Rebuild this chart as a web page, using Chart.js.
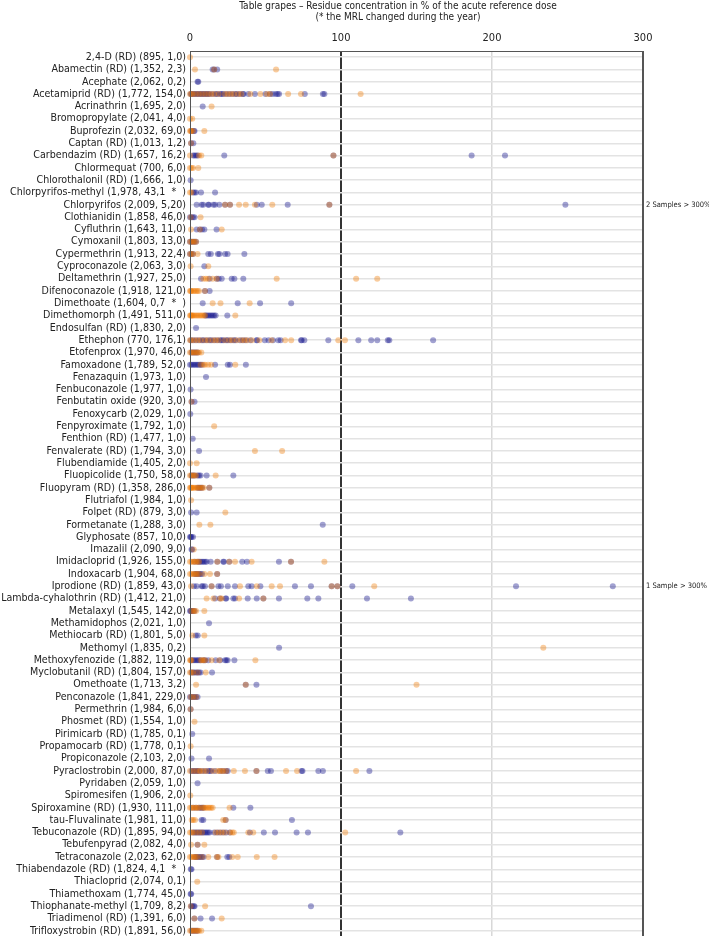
<!DOCTYPE html>
<html>
<head>
<meta charset="utf-8">
<script src="https://cdn.jsdelivr.net/npm/chart.js@4"></script>
<style>
  html, body { margin: 0; padding: 0; background: #fff; overflow: hidden; }
  #wrap { width: 709px; height: 936px; overflow: hidden; }
</style>
</head>
<body>
<div id="wrap"><canvas id="c" width="709" height="941"></canvas></div>
<script>
const titleLines = [
  "Table grapes \u2013 Residue concentration in % of the acute reference dose",
  "(* the MRL changed during the year)"
];

const categories = [
  "2,4-D (RD) (895, 1,0)",
  "Abamectin (RD) (1,352, 2,3)",
  "Acephate (2,062, 0,2)",
  "Acetamiprid (RD) (1,772, 154,0)",
  "Acrinathrin (1,695, 2,0)",
  "Bromopropylate (2,041, 4,0)",
  "Buprofezin (2,032, 69,0)",
  "Captan (RD) (1,013, 1,2)",
  "Carbendazim (RD) (1,657, 16,2)",
  "Chlormequat (700, 6,0)",
  "Chlorothalonil (RD) (1,666, 1,0)",
  "Chlorpyrifos-methyl (1,978, 43,1  *  )",
  "Chlorpyrifos (2,009, 5,20)",
  "Clothianidin (1,858, 46,0)",
  "Cyfluthrin (1,643, 11,0)",
  "Cymoxanil (1,803, 13,0)",
  "Cypermethrin (1,913, 22,4)",
  "Cyproconazole (2,063, 3,0)",
  "Deltamethrin (1,927, 25,0)",
  "Difenoconazole (1,918, 121,0)",
  "Dimethoate (1,604, 0,7  *  )",
  "Dimethomorph (1,491, 511,0)",
  "Endosulfan (RD) (1,830, 2,0)",
  "Ethephon (770, 176,1)",
  "Etofenprox (1,970, 46,0)",
  "Famoxadone (1,789, 52,0)",
  "Fenazaquin (1,973, 1,0)",
  "Fenbuconazole (1,977, 1,0)",
  "Fenbutatin oxide (920, 3,0)",
  "Fenoxycarb (2,029, 1,0)",
  "Fenpyroximate (1,792, 1,0)",
  "Fenthion (RD) (1,477, 1,0)",
  "Fenvalerate (RD) (1,794, 3,0)",
  "Flubendiamide (1,405, 2,0)",
  "Fluopicolide (1,750, 58,0)",
  "Fluopyram (RD) (1,358, 286,0)",
  "Flutriafol (1,984, 1,0)",
  "Folpet (RD) (879, 3,0)",
  "Formetanate (1,288, 3,0)",
  "Glyphosate (857, 10,0)",
  "Imazalil (2,090, 9,0)",
  "Imidacloprid (1,926, 155,0)",
  "Indoxacarb (1,904, 68,0)",
  "Iprodione (RD) (1,859, 43,0)",
  "Lambda-cyhalothrin (RD) (1,412, 21,0)",
  "Metalaxyl (1,545, 142,0)",
  "Methamidophos (2,021, 1,0)",
  "Methiocarb (RD) (1,801, 5,0)",
  "Methomyl (1,835, 0,2)",
  "Methoxyfenozide (1,882, 119,0)",
  "Myclobutanil (RD) (1,804, 157,0)",
  "Omethoate (1,713, 3,2)",
  "Penconazole (1,841, 229,0)",
  "Permethrin (1,984, 6,0)",
  "Phosmet (RD) (1,554, 1,0)",
  "Pirimicarb (RD) (1,785, 0,1)",
  "Propamocarb (RD) (1,778, 0,1)",
  "Propiconazole (2,103, 2,0)",
  "Pyraclostrobin (2,000, 87,0)",
  "Pyridaben (2,059, 1,0)",
  "Spiromesifen (1,906, 2,0)",
  "Spiroxamine (RD) (1,930, 111,0)",
  "tau-Fluvalinate (1,981, 11,0)",
  "Tebuconazole (RD) (1,895, 94,0)",
  "Tebufenpyrad (2,082, 4,0)",
  "Tetraconazole (2,023, 62,0)",
  "Thiabendazole (RD) (1,824, 4,1  *  )",
  "Thiacloprid (2,074, 0,1)",
  "Thiamethoxam (1,774, 45,0)",
  "Thiophanate-methyl (1,709, 8,2)",
  "Triadimenol (RD) (1,391, 6,0)",
  "Trifloxystrobin (RD) (1,891, 56,0)"
];

// blue series: residue results (% ARfD), one list per row
const blueValues = [
  [],
  [15, 16, 18],
  [5, 5.5],
  [0.5, 1, 2, 3, 4, 5, 6, 7, 8, 9, 10, 11, 12, 13, 15, 17, 18, 20, 21, 22, 24, 26, 28, 30, 31, 33, 35, 35.5, 38.6, 43, 50, 53, 54.7, 56.8, 58, 59, 76, 88, 89],
  [8.4],
  [],
  [1, 2.5, 3],
  [0.7, 2.2],
  [2, 3, 4, 5, 22.7, 95, 186.5, 208.6],
  [],
  [0.4],
  [2, 3, 4, 7.3, 16.6],
  [4.4, 7.7, 8.8, 12.1, 12.5, 15.5, 16.6, 19.4, 23.2, 26.5, 44.2, 47.5, 64.7, 92.3, 248.6],
  [0, 1, 2, 3],
  [4.4, 6.6, 8, 9.5, 17.6],
  [0, 1, 2, 3, 4],
  [0, 1, 2, 12.1, 13.8, 18.5, 19.5, 23.2, 24.9, 36],
  [9.5],
  [7.3, 13, 17.7, 19, 21, 27.6, 29.4, 35.3],
  [9.9, 13],
  [8.4, 31.6, 46.4, 67],
  [10, 11, 12, 13, 14, 15, 16, 17, 24.7],
  [4],
  [0.5, 2, 4, 6, 8, 9, 11, 13, 14, 16, 18, 20, 21, 22, 24, 25, 27, 29, 30, 33, 35, 37, 40, 44, 44.5, 49.5, 52, 55, 58.5, 60, 73.5, 74, 75.7, 91.6, 111.5, 120, 124, 131, 132, 161],
  [1, 2, 3, 4, 5],
  [0, 1, 2, 3, 4, 5, 6, 7, 8, 16.6, 25, 26.5, 37],
  [10.6],
  [0.4],
  [1, 3],
  [0.2],
  [],
  [1.8],
  [6],
  [],
  [1, 2, 3, 5, 6, 7, 11, 28.7],
  [5, 6, 7, 8, 12.8],
  [],
  [0.7, 4.4],
  [87.9],
  [0, 0.5, 1, 2],
  [1, 1.5],
  [3, 5, 6, 7, 8, 9, 10, 11, 13.7, 18.1, 22, 22.5, 26, 34.6, 37.7, 58.9, 66.9],
  [3, 4, 5, 6, 7, 8, 18],
  [2.6, 4.4, 7.7, 8.5, 9.9, 14.3, 18.8, 20.5, 25, 29.8, 38.6, 40.8, 46.6, 69.5, 80.1, 93.8, 97.6, 107.5, 215.9, 280],
  [16.6, 19.9, 23.6, 24, 28.7, 29.8, 38.2, 44.2, 48.6, 58.9, 77.7, 85, 117.2, 146.3],
  [0, 0.5, 1, 2, 3],
  [12.6],
  [3.8, 5.1],
  [59],
  [1, 2, 3, 4, 5, 6, 7, 9, 10, 12.1, 17, 20, 23.2, 24, 24.9, 29.4],
  [1, 2, 3, 4, 5, 6, 7, 14.6],
  [36.9, 44],
  [0, 1, 2, 3, 4, 5],
  [0.4],
  [],
  [1.5],
  [],
  [1, 12.6],
  [1, 2, 3, 4, 5, 6, 8, 10, 12, 13, 14, 16.5, 20, 22, 24, 25, 44, 51.5, 53.6, 73.9, 74.5, 85, 88, 118.8],
  [5],
  [],
  [2, 4, 6, 7, 8, 9, 28.7, 40],
  [7.7, 8.8, 23.6, 67.5],
  [2, 3, 4, 5, 6, 7, 8, 9, 10, 11, 12, 13, 16, 18, 20, 22, 24, 26.5, 39.7, 48.9, 56.3, 70.6, 78.1, 139.3],
  [5],
  [3, 4, 5, 6, 7, 8, 9, 18, 24.7, 26],
  [0.5, 1],
  [],
  [0.4, 0.8],
  [0.7, 1.5, 2.5, 3, 80.1],
  [2.9, 7, 14.6],
  [1, 2, 3, 4, 5]
];

// orange series: residue results (% ARfD), one list per row
const orangeValues = [
  [0],
  [3.3, 16, 57],
  [],
  [0, 1, 2, 4, 6, 8, 10, 12, 14, 16, 19, 23, 25, 27, 29, 32, 34, 40, 46.6, 51, 53, 65, 73.5, 113],
  [14.3],
  [0, 1.5],
  [0, 0.5, 1, 2, 9.5],
  [0.7],
  [0, 6, 7.5, 95],
  [0, 1, 2, 5.5],
  [],
  [0, 1],
  [23.2, 26.5, 32.5, 36.9, 43, 54.5, 92.3],
  [0.5, 7],
  [0.7, 6.6, 21],
  [0, 1, 2, 3, 4],
  [0, 1, 2, 5],
  [0.4, 12.1],
  [8.8, 10.5, 12.1, 15, 17.7, 57.4, 110, 124],
  [0, 0.5, 1, 2, 3, 4, 5, 6, 9.9],
  [15, 20.2, 39.5],
  [0, 0.5, 1, 1.5, 2, 3, 4, 5, 6, 7, 8, 9, 10, 30],
  [],
  [0, 1, 3, 5, 7, 10, 12, 15, 17, 19, 23, 26, 28, 31, 34, 36, 38, 41, 46, 54, 63, 67, 98.2, 102.6],
  [0, 1, 2, 3, 4, 5, 6, 7.5],
  [7, 9, 10, 12, 14, 30],
  [],
  [],
  [1],
  [],
  [16],
  [],
  [43, 61],
  [0, 4.4],
  [0, 1, 2, 3, 4, 17],
  [0, 0.5, 1, 1.5, 2, 3, 4, 5, 6, 7, 8, 9, 12.8],
  [0.7],
  [23.4],
  [6.2, 13.5],
  [],
  [2.5],
  [0, 1, 2, 3, 4, 5, 6, 18.1, 26, 29.8, 40.8, 66.9, 89],
  [0, 1, 2, 3, 4, 5, 6, 9.5, 13.2, 18],
  [0.7, 14.3, 33.1, 44.2, 54.1, 59.6, 93.8, 97.6, 122],
  [11, 15.5, 19.9, 21, 32.5, 48.6],
  [1, 2, 3, 4, 9.5],
  [],
  [1.5, 9.5],
  [234],
  [0, 0.5, 1, 7, 8, 9, 10, 14.3, 19.4, 43.3],
  [0, 1, 2, 5, 10.4],
  [4, 36.9, 150],
  [0.5, 2, 4],
  [0.4],
  [3],
  [],
  [0.4],
  [],
  [0, 2, 4, 6, 7, 9, 11, 15, 18, 19.5, 21, 22, 24, 29, 36.4, 44, 63.6, 70.9, 110],
  [],
  [0.2],
  [0, 1, 2, 3, 4, 5, 6, 8, 9, 10, 11, 12, 13, 14, 15, 26.2],
  [1.1, 2, 3.3, 22, 23.6],
  [0, 1, 2, 4, 6, 8, 17, 19, 21, 23, 26.5, 28, 29, 38.6, 41.9, 102.8],
  [0.7, 5, 9.5],
  [0, 1, 2, 3, 4, 5, 8, 12.1, 17.7, 18.8, 28, 31.6, 44.2, 56],
  [],
  [4.8],
  [],
  [0.5, 10],
  [2.9, 21],
  [0, 1, 2, 3, 4, 5, 6, 7.5]
];

const xTickValues = [0, 100, 200, 300];
const overLimitNotes = [
  { row: 12, text: "2 Samples > 300%" },
  { row: 43, text: "1 Sample > 300%" }
];

function toPoints(lists) {
  const pts = [];
  lists.forEach((vals, i) => vals.forEach(v => pts.push({ x: v, y: i })));
  return pts;
}

const labelFont = "'DejaVu Sans Condensed', 'DejaVu Sans', sans-serif";

const decorPlugin = {
  id: 'decor',
  afterDraw(chart) {
    const ctx = chart.ctx;
    const ca = chart.chartArea;
    ctx.save();
    ctx.strokeStyle = '#555';
    ctx.lineWidth = 1;
    ctx.strokeRect(ca.left + 0.5, ca.top + 0.5, ca.right - ca.left - 1, ca.bottom - ca.top + 2);
    // title
    ctx.fillStyle = '#222';
    ctx.textAlign = 'center';
    ctx.textBaseline = 'middle';
    ctx.font = "10px " + labelFont;
    ctx.fillText(titleLines[0], 398, 6);
    ctx.fillText(titleLines[1], 398, 17);
    // notes for values beyond the axis
    ctx.textAlign = 'left';
    ctx.font = "7.5px " + labelFont;
    const ys = chart.scales.y;
    overLimitNotes.forEach(n => {
      ctx.fillText(n.text, ca.right + 3, ys.getPixelForValue(n.row));
    });
    ctx.restore();
  }
};

new Chart(document.getElementById('c'), {
  type: 'scatter',
  data: {
    datasets: [
      {
        label: 'orange',
        data: toPoints(orangeValues),
        backgroundColor: 'rgba(240,120,0,0.38)',
        borderWidth: 0,
        pointRadius: 3,
        clip: false
      },
      {
        label: 'blue',
        data: toPoints(blueValues),
        backgroundColor: 'rgba(20,20,140,0.4)',
        borderWidth: 0,
        pointRadius: 3,
        clip: false
      }
    ]
  },
  options: {
    responsive: false,
    animation: false,
    layout: { padding: { left: 0, right: 66, top: 0, bottom: 0 } },
    plugins: {
      legend: { display: false },
      tooltip: { enabled: false },
      title: { display: false }
    },
    scales: {
      x: {
        type: 'linear',
        position: 'top',
        min: 0,
        max: 300,
        afterFit(scale) {
          scale.height = 51;
          scale.paddingLeft = 0;
          scale.paddingRight = 0;
        },
        afterBuildTicks(scale) { scale.ticks = xTickValues.map(v => ({ value: v })); },
        border: { display: false },
        grid: {
          drawTicks: false,
          color: c => c.tick.value === 100 ? '#333' : (c.tick.value === 200 ? '#d8d8d8' : '#555'),
          lineWidth: c => c.tick.value === 100 ? 2 : (c.tick.value === 200 ? 1.5 : 1)
        },
        ticks: {
          padding: 6,
          color: '#222',
          font: { family: labelFont, size: 11 }
        }
      },
      y: {
        type: 'linear',
        reverse: true,
        min: -0.5,
        max: categories.length - 0.5,
        afterFit(scale) {
          scale.width = 190;
          scale.paddingTop = 0;
          scale.paddingBottom = 0;
        },
        afterBuildTicks(scale) { scale.ticks = categories.map((_, i) => ({ value: i })); },
        border: { display: false },
        grid: {
          drawTicks: false,
          color: '#e3e3e3',
          lineWidth: 1.5
        },
        ticks: {
          autoSkip: false,
          padding: 4,
          color: '#222',
          font: { family: labelFont, size: 10.6 },
          callback: v => categories[v]
        }
      }
    }
  },
  plugins: [decorPlugin]
});
</script>
</body>
</html>
